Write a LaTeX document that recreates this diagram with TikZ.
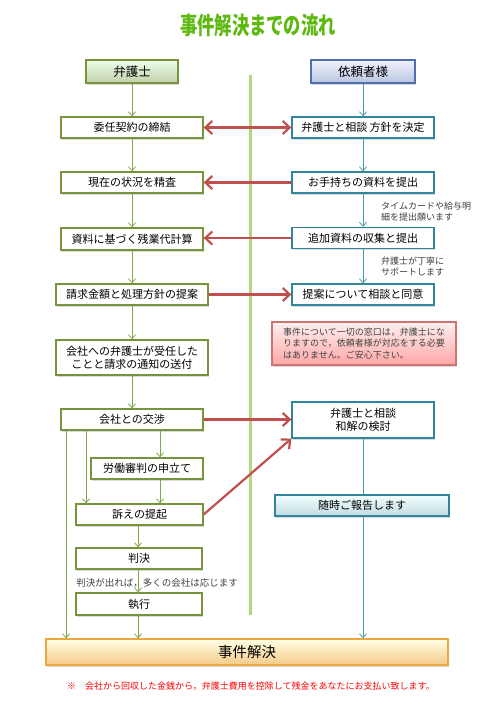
\documentclass[tikz,border=0pt]{standalone}
\usepackage{fontspec}
\setmainfont{Noto Sans CJK JP}
\usepackage{graphicx}
\usetikzlibrary{arrows.meta,shadows,calc}
\definecolor{flGreen}{HTML}{77933C}
\definecolor{flGreenArrow}{HTML}{7EA84A}
\definecolor{flDivider}{HTML}{B2D87E}
\definecolor{flTeal}{HTML}{31859C}
\definecolor{flTealArrow}{HTML}{4A9CA8}
\definecolor{flRed}{HTML}{C0504D}
\definecolor{flBlue}{HTML}{4F6FAE}
\definecolor{flOrange}{HTML}{EDA73A}
\definecolor{flTitle}{HTML}{5DB80F}
\definecolor{flMemo}{HTML}{404040}
\tikzset{redtip/.tip={Straight Barb[length=7pt,width=13pt]},
         smalltip/.tip={Straight Barb[length=4pt,width=7pt]}}

\begin{document}
\begin{tikzpicture}[x=1pt, y=-1pt,
      box/.style={rectangle, fill=white, line width=1.3pt, minimum height=21pt,
                  inner sep=0pt, align=center, font=\fontsize{11}{13}\selectfont,
                  drop shadow={shadow xshift=1pt, shadow yshift=-1.5pt, opacity=0.3}},
      lbox/.style={box, draw=flGreen},
      rbox/.style={box, draw=flTeal},
      header/.style={box, minimum height=23pt, font=\fontsize{12.5}{14}\selectfont},
      garrow/.style={-smalltip, line width=0.8pt, flGreenArrow},
      tarrow/.style={-smalltip, line width=0.8pt, flTealArrow},
      rarrow/.style={-redtip, line width=2.2pt, flRed},
      memo/.style={inner sep=0pt, align=left, text=flMemo, font=\fontsize{9}{11}\selectfont}
    ]
    \useasboundingbox (0,0) rectangle (500,707);

    % title and divider
    \node[text=flTitle] (title) at (258,25)
      {\scalebox{0.72}[1]{\fontsize{24}{24}\selectfont\bfseries 事件解決までの流れ}};
    \draw[flDivider, line width=3pt] (250,75) -- (250,615);

    % lawyer side
    \node[header, draw=flGreen, top color=green!8!white, bottom color=flGreen!45!white,
          minimum width=92pt] (lawyer) at (132,71.5) {弁護士};
    \node[lbox, minimum width=142pt] (iinin) at (132,127.5) {委任契約の締結};
    \node[lbox, minimum width=142pt] (genzai) at (132,182.5) {現在の状況を精査};
    \node[lbox, minimum width=142pt, minimum height=22pt] (keisan) at (132,239) {資料に基づく残業代計算};
    \node[lbox, minimum width=152pt] (teian) at (132,294.5) {請求金額と処理方針の提案};
    \node[lbox, minimum width=152pt, minimum height=35pt] (tsuchi) at (132,357.5)
      {会社への弁護士が受任した\\ことと請求の通知の送付};
    \node[lbox, minimum width=142pt] (kosho) at (132,419.5) {会社との交渉};
    \node[lbox, minimum width=112pt] (shinpan) at (147,468.5) {労働審判の申立て};
    \node[lbox, minimum width=127pt] (teiki) at (139.5,514.5) {訴えの提起};
    \node[lbox, minimum width=126pt] (hanketsu) at (139,558.5) {判決};
    \node[lbox, minimum width=126pt, minimum height=22pt] (shikko) at (139,604) {執行};

    % client side
    \node[header, draw=flBlue, top color=blue!5!white, bottom color=flBlue!40!white,
          minimum width=104pt] (client) at (363,71.5) {依頼者様};
    \node[rbox, minimum width=142pt] (soudan) at (363,127.5) {弁護士と相談 方針を決定};
    \node[rbox, minimum width=142pt] (teishutsu) at (363,182.5) {お手持ちの資料を提出};
    \node[rbox, minimum width=142pt] (tsuika) at (363,238) {追加資料の収集と提出};
    \node[rbox, minimum width=142pt] (doui) at (363,294.5) {提案について相談と同意};
    \node[box, draw=flRed!80!white, top color=red!6!white, bottom color=red!35!white,
          minimum width=184pt, minimum height=43pt, align=left,
          font=\fontsize{9}{11.5}\selectfont, text=flMemo] (notice) at (364,343.5)
      {事件について一切の窓口は，弁護士にな\\りますので，依頼者様が対応をする必要\\はありません。ご安心下さい。};
    \node[rbox, minimum width=142pt, minimum height=36pt] (wakai) at (363,420)
      {弁護士と相談\\和解の検討};
    \node[box, draw=flTeal, top color=cyan!5!white, bottom color=flTeal!30!white,
          minimum width=174pt] (hokoku) at (362,505.5) {随時ご報告します};

    % goal
    \node[box, draw=flOrange, top color=yellow!10!white, bottom color=flOrange!60!white,
          minimum width=402pt, minimum height=26pt, font=\fontsize{14.5}{16}\selectfont]
      (kaiketsu) at (247,652) {事件解決};

    % side notes
    \node[memo, anchor=west] (memoA) at (381,212) {タイムカードや給与明\\細を提出願います};
    \node[memo, anchor=west] (memoB) at (381,266) {弁護士が丁寧に\\サポートします};
    \node[memo, font=\fontsize{9.5}{11}\selectfont] (memoC) at (157,583)
      {判決が出れば，多くの会社は応じます};
    \node[text=red, font=\fontsize{9}{11}\selectfont] (footnote) at (251,686)
      {※　会社から回収した金銭から，弁護士費用を控除して残金をあなたにお支払い致します。};

    % columns for the branch lines
    \coordinate (colA) at (66,0);
    \coordinate (colB) at (86,0);
    \coordinate (colC) at (160,0);
    \coordinate (colD) at (138,0);
    \coordinate (colE) at (363,0);

    % green arrows
    \draw[garrow] (lawyer) -- (iinin);
    \draw[garrow] (iinin) -- (genzai);
    \draw[garrow] (genzai) -- (keisan);
    \draw[garrow] (keisan) -- (teian);
    \draw[garrow] (teian) -- (tsuchi);
    \draw[garrow] (tsuchi) -- (kosho);
    \draw[garrow] (kosho.south -| colA) -- (kaiketsu.north -| colA);
    \draw[garrow] (kosho.south -| colB) -- (teiki.north -| colB);
    \draw[garrow] (kosho.south -| colC) -- (shinpan.north -| colC);
    \draw[garrow] (shinpan.south -| colC) -- (teiki.north -| colC);
    \draw[garrow] (teiki.south -| colD) -- (hanketsu.north -| colD);
    \draw[garrow] (hanketsu.south -| colD) -- (shikko.north -| colD);
    \draw[garrow] (shikko.south -| colD) -- (kaiketsu.north -| colD);

    % teal arrows
    \draw[tarrow] (client) -- (soudan);
    \draw[tarrow] (soudan) -- (teishutsu);
    \draw[tarrow] (teishutsu) -- (tsuika);
    \draw[tarrow] (tsuika) -- (doui);
    \draw[line width=0.8pt, flTealArrow] (wakai.south -| colE) -- (hokoku.north -| colE);
    \draw[tarrow] (hokoku.south -| colE) -- (kaiketsu.north -| colE);

    % red arrows
    \draw[rarrow, redtip-redtip] (soudan) -- (iinin);
    \draw[rarrow] (teishutsu) -- (genzai);
    \draw[rarrow] (tsuika.west) -- (tsuika.west -| keisan.east);
    \draw[rarrow] (teian) -- (doui);
    \draw[rarrow] (kosho.east) -- (kosho.east -| wakai.west);
    \draw[rarrow] (teiki.east) -- (wakai.south west);
  \end{tikzpicture}
\end{document}
